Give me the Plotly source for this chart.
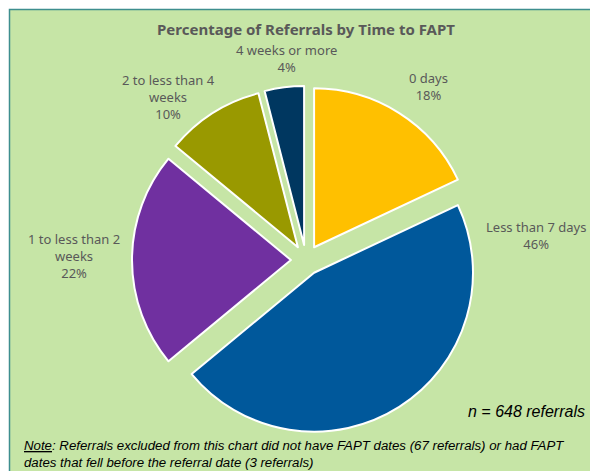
import plotly.graph_objects as go

# ---- data ----
categories = ["0 days", "Less than 7 days", "1 to less than 2 weeks",
              "2 to less than 4 weeks", "4 weeks or more"]
label_lines = [["0 days"], ["Less than 7 days"], ["1 to less than 2", "weeks"],
               ["2 to less than 4", "weeks"], ["4 weeks or more"]]
percent = [18, 46, 22, 10, 4]
n_total = 648
excluded_no_date = 67
excluded_before = 3

# ---- style ----
W, H = 590, 471
colors = ["#FFC000", "#00589B", "#7030A0", "#999900", "#003760"]
bg_green = "#C6E5A6"
text_gray = "#595959"

cx, cy, box = 306, 260, 348  # pie centre and box size in px
domain_x = [(cx - box / 2) / W, (cx + box / 2) / W]
domain_y = [(H - cy - box / 2) / H, (H - cy + box / 2) / H]

fig = go.Figure()
fig.add_trace(go.Pie(
    labels=categories,
    values=percent,
    sort=False,
    direction="clockwise",
    rotation=0,
    pull=[0.095] * len(percent),
    marker=dict(colors=colors, line=dict(color="white", width=2)),
    textinfo="none",
    hoverinfo="label+percent",
    domain=dict(x=domain_x, y=domain_y),
    showlegend=False,
))

# label positions (px centres) chosen to match the original layout
label_pos = [(428, 86.5), (535.5, 235), (73.5, 256), (168.5, 97), (286, 59)]
annotations = []
for lines, p, (lx, ly) in zip(label_lines, percent, label_pos):
    annotations.append(dict(
        x=lx / W, y=1 - ly / H, xref="paper", yref="paper",
        text="<br>".join(lines + [f"{p}%"]), showarrow=False,
        xanchor="center", yanchor="middle", align="center",
        font=dict(family="Noto Sans, Open Sans, sans-serif", size=13, color=text_gray),
    ))

annotations.append(dict(
    x=587 / W, y=1 - 411 / H, xref="paper", yref="paper",
    text=f"<i>n = {n_total} referrals</i>", showarrow=False,
    xanchor="right", yanchor="middle",
    font=dict(family="Liberation Sans, Arial, sans-serif", size=16, color="#000000"),
))
annotations.append(dict(
    x=22 / W, y=1 - 453.5 / H, xref="paper", yref="paper",
    text=(f"<i><u>Note</u>: Referrals excluded from this chart did not have FAPT dates "
          f"({excluded_no_date} referrals) or had FAPT<br>dates that fell before the referral date "
          f"({excluded_before} referrals)</i>"),
    showarrow=False, xanchor="left", yanchor="middle", align="left",
    font=dict(family="Liberation Sans, Arial, sans-serif", size=13.25, color="#000000"),
))

fig.update_layout(
    width=W, height=H,
    margin=dict(l=0, r=0, t=0, b=0),
    paper_bgcolor="white",
    title=dict(
        text="<b>Percentage of Referrals by Time to FAPT</b>",
        x=306 / W, y=1 - 30 / H, xanchor="center", yanchor="middle",
        font=dict(family="Noto Sans, Open Sans, sans-serif", size=15, color=text_gray),
    ),
    annotations=annotations,
    shapes=[dict(
        type="rect", xref="paper", yref="paper", layer="below",
        x0=9.5 / W, x1=1.05, y0=-0.05, y1=1 - 9.5 / H,
        fillcolor=bg_green, line=dict(color="#3E8E8E", width=1.5),
    )],
)

fig.write_html(
    "out.html",
    config={"displayModeBar": False},
    post_script="document.body.style.margin='0';document.body.style.overflow='hidden';",
)
